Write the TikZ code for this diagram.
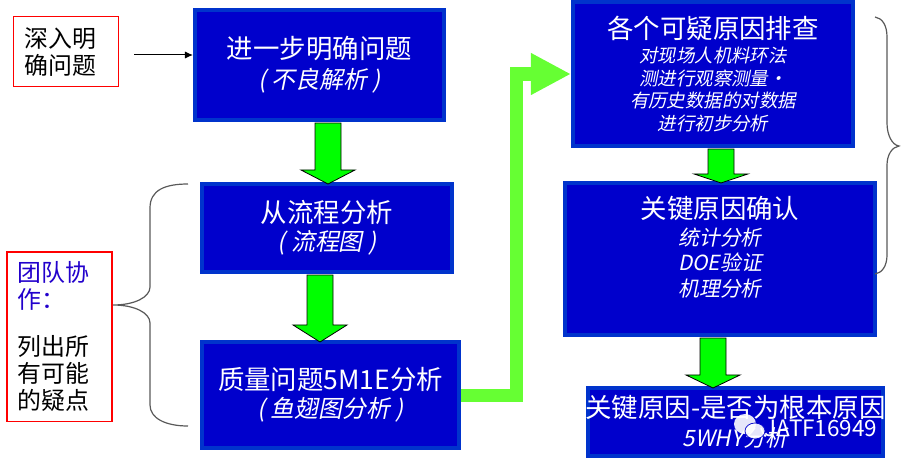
\documentclass[tikz,border=0pt]{standalone}
\usepackage{fontspec}
\usepackage{xcolor}
\usepackage{tikz}
\usetikzlibrary{calc, arrows.meta}
\newfontfamily\cjk{Noto Sans CJK SC}
\newfontfamily\cjkit[FakeSlant=0.2]{Noto Sans CJK SC}
\definecolor{boxblue}{RGB}{0,0,204}
\definecolor{edgeblue}{RGB}{0,51,204}
\definecolor{fatgreen}{RGB}{102,255,51}
\definecolor{teamblue}{RGB}{34,0,204}
\definecolor{notered}{RGB}{255,0,0}
\newcommand{\boxhead}[1]{\makebox[0pt]{\fontsize{18.8}{22}\selectfont #1}}
\newcommand{\boxnote}[2][13.1]{{\cjkit\fontsize{#1}{16}\selectfont #2}}
% block arrow: x position, upper box, lower box, head length
\newcommand{\blockarrow}[4]{
	\coordinate (ax) at (#1,0);
	\draw[greenarrow] ($(ax |- #2.south)+(-13,1)$) -- ($(ax |- #3.north)+(-13,{2-#4})$) -- ($(ax |- #3.north)+(-27,{2-#4})$) -- ($(ax |- #3.north)+(0,2)$) -- ($(ax |- #3.north)+(27,{2-#4})$) -- ($(ax |- #3.north)+(13,{2-#4})$) -- ($(ax |- #2.south)+(13,1)$) -- cycle;
}
\tikzset{
	stepbox/.style={draw=edgeblue, fill=boxblue, line width=0.1cm, inner sep=0pt, text=white, align=center, font=\cjk\fontsize{13}{16}\selectfont},
	notetext/.style={inner ysep=0pt, inner xsep=0.26cm, text width=2.1cm, align=left, font=\cjk\fontsize{17}{19.2}\selectfont},
	notebox/.style={notetext, draw=notered, fill=white, line width=0.03cm},
	greenarrow/.style={draw=black, fill=green, line width=0.02cm, line join=miter},
	bracket/.style={draw=black!65, line width=0.03cm},
}
\begin{document}
\begin{tikzpicture}[x=0.025cm, y=-0.025cm]
	\useasboundingbox (0,0) rectangle (905,466);
	% red notes
	\node[notebox, minimum height=4.24cm] (team) at (59.5,336.75) {};
	\node[notetext, text=teamblue] (teamhead) at (59.5,285.5) {团队协\\作：};
	\node[notetext] (teamlist) at (59.5,373) {列出所\\有可能\\的疑点};
	\node[notebox, minimum height=1.75cm] (deepen) at (66.25,51.75) {深入明\\确问题};
	% left column
	\node[stepbox, minimum width=6.225cm, minimum height=2.75cm] (clarify) at (319.5,65) {\boxhead{进一步明确问题}\\[4pt] \boxnote[17]{( 不良解析 )}};
	\node[stepbox, minimum width=6.25cm, minimum height=2.2cm] (flow) at (327,228) {\boxhead{从流程分析}\\[4pt] \boxnote[17]{( 流程图 )}};
	\node[stepbox, minimum width=6.425cm, minimum height=2.65cm] (quality) at (330.5,395) {\boxhead{质量问题5M1E分析}\\[4pt] \boxnote[17]{( 鱼翅图分析 )}};
	% right column
	\node[stepbox, minimum width=7cm, minimum height=3.6cm] (check) at (713,74) {\boxhead{各个可疑原因排查}\\[1pt] \boxnote{对现场人机料环法}\\ \boxnote{测进行观察测量・}\\ \boxnote{有历史数据的对数据}\\ \boxnote{进行初步分析}};
	\node[stepbox, minimum width=7.75cm, minimum height=3.8cm] (confirm) at (720,259) {\boxhead{关键原因确认}\\[3pt] \boxnote[14.8]{统计分析}\\[2pt] \boxnote[14.8]{DOE验证}\\[2pt] \boxnote[14.8]{机理分析}\\[2pt] ~};
	\node[stepbox, minimum width=7.375cm, minimum height=1.7cm] (root) at (735.5,422) {\boxhead{关键原因-是否为根本原因}\\[5pt] \boxnote[16]{5WHY分析}};
	% arrows
	\coordinate (deepenout) at (134,55);
	\draw[-{Latex[length=0.2cm,width=0.18cm]}, line width=0.025cm] (deepenout) -- (deepenout -| clarify.west);
	\blockarrow{328}{clarify}{flow}{14}
	\blockarrow{320}{flow}{quality}{17}
	\blockarrow{721}{check}{confirm}{9}
	\blockarrow{713}{confirm}{root}{13}
	\draw[-{Triangle[length=1cm,width=0.975cm]}, draw=fatgreen, line width=0.325cm] (quality.east) -- ++(55,0) |- (check.west);
	% braces
	\draw[bracket] (188,184) .. controls (165,184) and (150,190) .. (150,208) -- (150,287) .. controls (150,297) and (135,305) .. (113,305) .. controls (135,305) and (150,313) .. (150,323) -- (150,405) .. controls (150,418) and (165,426) .. (188,426);
	\draw[bracket] (875,17) .. controls (882,18) and (887,25) .. (887,37) -- (887,123) .. controls (887,135) and (892,145) .. (899,146) .. controls (892,147) and (887,155) .. (887,165) -- (887,255) .. controls (887,266) and (882,273) .. (875,274);
	% watermark
	\fill[white, opacity=0.9] (745,424) ellipse [x radius=11, y radius=10];
	\fill[white, draw=boxblue, line width=0.02cm, opacity=0.9] (755,431) ellipse [x radius=10, y radius=8];
	\node[text=white, inner sep=0pt, font=\cjk\fontsize{16}{18}\selectfont] (mark) at (821,428) {JATF16949};
\end{tikzpicture}
\end{document}
